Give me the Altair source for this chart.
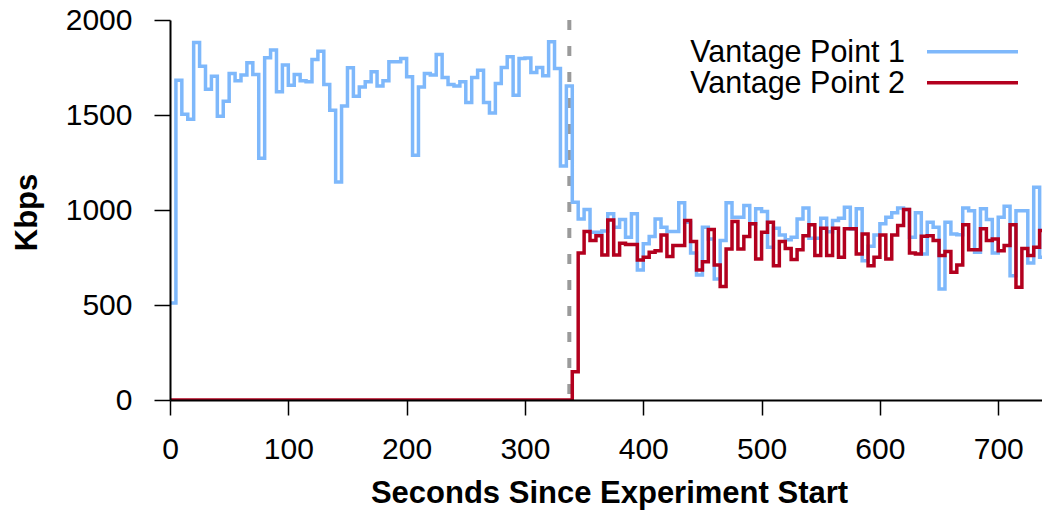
import altair as alt
import pandas as pd

# ---- data (5-second bins) ----
step = 5
vp1_kbps = [
    510, 1683, 1504, 1478, 1882, 1757, 1636, 1704, 1493, 1573,
    1719, 1680, 1710, 1775, 1713, 1273, 1801, 1842, 1622, 1763,
    1657, 1713, 1680, 1675, 1792, 1836, 1660, 1525, 1147, 1548,
    1749, 1599, 1648, 1675, 1727, 1653, 1680, 1780, 1780, 1798,
    1701, 1288, 1648, 1719, 1710, 1819, 1697, 1660, 1653, 1675,
    1566, 1697, 1736, 1566, 1511, 1666, 1750, 1806, 1604, 1798,
    1800, 1724, 1750, 1706, 1886, 1745, 1231, 1653, 1041, 953,
    1003, 883, 883, 890, 980, 909, 950, 857, 980, 684,
    822, 860, 953, 909, 887, 887, 1038, 936, 774, 658,
    909, 848, 637, 839, 1038, 962, 962, 1024, 927, 1006,
    992, 804, 904, 869, 843, 857, 953, 1010, 851, 851,
    957, 885, 945, 957, 1015, 900, 1006, 733, 809, 869,
    927, 962, 985, 1010, 1003, 857, 985, 769, 936, 909,
    584, 936, 874, 870, 1010, 996, 777, 1006, 950, 774,
    962, 1020, 654, 996, 996, 721, 1120, 751, 1103,
]
vp2_kbps = [0] * 68 + [
    149, 774, 887, 839, 865, 763, 948, 763, 825, 818,
    818, 737, 751, 777, 785, 869, 755, 813, 813, 945,
    834, 684, 728, 897, 711, 598, 795, 939, 795, 860,
    927, 742, 883, 936, 707, 834, 798, 739, 791, 865,
    922, 760, 904, 760, 904, 751, 901, 901, 769, 874,
    707, 751, 869, 742, 869, 918, 1003, 774, 769, 862,
    865, 839, 760, 781, 672, 711, 922, 791, 791, 901,
    839, 848, 786, 813, 922, 593, 798, 760, 804, 892,
    918,
]
series_names = ["Vantage Point 1", "Vantage Point 2"]
series_colors = ["#7eb8fb", "#b3001e"]
x_ticks = [0, 100, 200, 300, 400, 500, 600, 700]
y_ticks = [0, 500, 1000, 1500, 2000]
switch_time = [337.5]

rows = []
for name, vals in zip(series_names, [vp1_kbps, vp2_kbps]):
    for i, v in enumerate(vals):
        rows.append({"t": i * step, "kbps": v, "series": name})
    rows.append({"t": len(vals) * step, "kbps": vals[-1], "series": name})
df = pd.DataFrame(rows)

FONT = "Liberation Sans"

x_scale = alt.Scale(domain=[0, 737], nice=False, zero=False)
y_scale = alt.Scale(domain=[0, 2000], nice=False)

x_axis = alt.Axis(
    values=x_ticks, title="Seconds Since Experiment Start", grid=False, format="d",
    tickSize=15, tickWidth=1.5, tickColor="black", domainColor="black", domainWidth=2,
    labelFontSize=30, labelFont=FONT, labelColor="black", labelPadding=19,
    labelFlush=False, labelOverlap=False,
    titleFont=FONT, titleFontSize=31, titleFontWeight="bold", titleColor="black",
    titleBaseline="alphabetic", titleX=439, titleY=102, titleAlign="center",
    zindex=1,
)
y_axis = alt.Axis(
    values=y_ticks, title="Kbps", grid=False, format="d",
    tickSize=16, tickWidth=1.5, tickColor="black", domainColor="black", domainWidth=2,
    labelFontSize=30, labelFont=FONT, labelColor="black", labelPadding=22,
    labelFlush=False, labelOverlap=False,
    titleFont=FONT, titleFontSize=31, titleFontWeight="bold", titleColor="black",
    titleAngle=270, titleBaseline="alphabetic", titleX=-134, titleY=192,
    titleAlign="center", zindex=1,
)

lines = alt.Chart(df).mark_line(interpolate="step-after", strokeWidth=3.5, clip=True).encode(
    x=alt.X("t:Q", scale=x_scale, axis=x_axis),
    y=alt.Y("kbps:Q", scale=y_scale, axis=y_axis),
    color=alt.Color("series:N", scale=alt.Scale(domain=series_names, range=series_colors), legend=None),
    order=alt.Order("t:Q"),
)

vline = alt.Chart(pd.DataFrame({"t": switch_time, "top": [2000], "bottom": [0]})).mark_rule(
    color="#9a9a9a", strokeWidth=4, strokeDash=[10, 16]
).encode(
    x=alt.X("t:Q", scale=x_scale),
    y=alt.Y("top:Q", scale=y_scale),
    y2="bottom:Q",
)

legend_layers = []
for i, (name, col) in enumerate(zip(series_names, series_colors)):
    ly = 31.7 + 31 * i
    legend_layers.append(
        alt.Chart(pd.DataFrame({"label": [name]})).mark_text(
            align="right", baseline="alphabetic", font=FONT, fontSize=30.5, color="black"
        ).encode(text="label:N", x=alt.value(735), y=alt.value(ly + 10.5))
    )
    legend_layers.append(
        alt.Chart(pd.DataFrame({"label": [name]})).mark_rule(color=col, strokeWidth=3.5).encode(
            x=alt.value(757), x2=alt.value(848), y=alt.value(ly)
        )
    )

chart = alt.layer(vline, lines, *legend_layers).properties(
    width=872, height=380,
    autosize=alt.AutoSizeParams(type="none"),
    padding={"left": 162, "top": 12, "right": 0, "bottom": 110},
).configure_view(stroke=None)

chart.save("out.html", embed_options={"renderer": "svg", "actions": False})
